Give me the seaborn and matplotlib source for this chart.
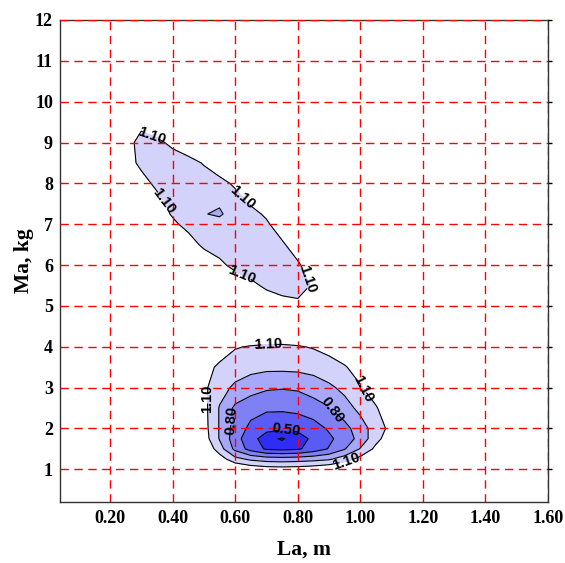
import matplotlib
matplotlib.use("Agg")
import matplotlib.pyplot as plt
import seaborn as sns

# ---------------- data ----------------
# lower basin: grid nodes and objective values
LOW_X = [0.45, 0.50, 0.55, 0.60, 0.65, 0.70, 0.75, 0.80, 0.85, 0.90, 0.95, 1.00, 1.05, 1.10, 1.15]
LOW_Y = [0.75, 1.0, 1.25, 1.5, 1.75, 2.0, 2.5, 3.0, 3.5, 4.0, 4.5]
LOW_Z = [
    [1.65, 1.60, 1.52, 1.45, 1.40, 1.37, 1.36, 1.37, 1.39, 1.42, 1.47, 1.52, 1.58, 1.62, 1.66],
    [1.55, 1.45, 1.35, 1.27, 1.21, 1.18, 1.17, 1.18, 1.20, 1.24, 1.30, 1.38, 1.45, 1.50, 1.55],
    [1.50, 1.35, 1.18, 1.00, 0.92, 0.88, 0.87, 0.88, 0.90, 0.93, 1.03, 1.15, 1.30, 1.40, 1.45],
    [1.45, 1.25, 1.02, 0.76, 0.59, 0.48, 0.46, 0.48, 0.56, 0.66, 0.79, 0.96, 1.14, 1.30, 1.40],
    [1.40, 1.18, 0.94, 0.72, 0.54, 0.45, 0.43, 0.46, 0.52, 0.62, 0.72, 0.85, 1.05, 1.20, 1.32],
    [1.35, 1.16, 0.94, 0.74, 0.61, 0.53, 0.51, 0.52, 0.58, 0.67, 0.75, 0.88, 1.02, 1.15, 1.28],
    [1.30, 1.15, 0.94, 0.77, 0.71, 0.68, 0.68, 0.70, 0.74, 0.79, 0.89, 0.99, 1.09, 1.18, 1.25],
    [1.18, 1.13, 1.01, 0.92, 0.86, 0.82, 0.81, 0.82, 0.86, 0.92, 0.99, 1.09, 1.16, 1.22, 1.27],
    [1.20, 1.14, 1.08, 1.03, 1.00, 0.985, 0.985, 0.99, 1.01, 1.05, 1.09, 1.15, 1.20, 1.25, 1.30],
    [1.25, 1.20, 1.16, 1.11, 1.09, 1.08, 1.08, 1.09, 1.11, 1.14, 1.18, 1.22, 1.26, 1.30, 1.33],
    [1.40, 1.38, 1.35, 1.32, 1.28, 1.26, 1.25, 1.26, 1.28, 1.30, 1.33, 1.36, 1.38, 1.40, 1.42],
]

# upper (diagonal) valley
UP_X = [0.20, 0.25, 0.30, 0.35, 0.40, 0.45, 0.50, 0.55, 0.60, 0.65, 0.70, 0.75, 0.80, 0.85, 0.90, 0.95]
UP_Y = [4.5, 5.0, 5.5, 6.0, 6.5, 7.0, 7.25, 7.5, 8.0, 8.5, 9.0, 9.5, 10.0]
UP_Z = [
    [1.65, 1.63, 1.61, 1.59, 1.56, 1.53, 1.50, 1.46, 1.42, 1.38, 1.34, 1.30, 1.30, 1.33, 1.38, 1.42],
    [1.62, 1.60, 1.58, 1.55, 1.52, 1.48, 1.44, 1.39, 1.33, 1.27, 1.21, 1.17, 1.14, 1.20, 1.28, 1.35],
    [1.60, 1.57, 1.54, 1.51, 1.47, 1.42, 1.37, 1.30, 1.22, 1.14, 1.07, 1.03, 1.03, 1.12, 1.22, 1.30],
    [1.56, 1.53, 1.50, 1.46, 1.40, 1.33, 1.25, 1.14, 1.05, 1.01, 1.00, 1.02, 1.08, 1.18, 1.27, 1.34],
    [1.52, 1.48, 1.43, 1.37, 1.29, 1.19, 1.06, 1.02, 1.00, 1.00, 1.03, 1.08, 1.17, 1.26, 1.33, 1.38],
    [1.48, 1.42, 1.35, 1.26, 1.14, 1.04, 1.00, 0.99, 1.00, 1.03, 1.08, 1.17, 1.26, 1.33, 1.38, 1.42],
    [1.45, 1.38, 1.30, 1.20, 1.08, 1.02, 0.955, 0.935, 1.00, 1.06, 1.12, 1.22, 1.30, 1.36, 1.41, 1.45],
    [1.42, 1.34, 1.25, 1.15, 1.06, 1.02, 1.00, 0.96, 1.04, 1.11, 1.19, 1.27, 1.34, 1.39, 1.43, 1.46],
    [1.35, 1.25, 1.15, 1.07, 1.03, 1.02, 1.03, 1.06, 1.12, 1.20, 1.28, 1.34, 1.39, 1.43, 1.46, 1.49],
    [1.28, 1.16, 1.07, 1.04, 1.03, 1.05, 1.11, 1.18, 1.26, 1.32, 1.37, 1.41, 1.44, 1.47, 1.50, 1.52],
    [1.30, 1.16, 1.05, 1.07, 1.13, 1.20, 1.26, 1.32, 1.36, 1.40, 1.43, 1.46, 1.48, 1.50, 1.52, 1.54],
    [1.35, 1.25, 1.14, 1.20, 1.24, 1.30, 1.35, 1.38, 1.42, 1.45, 1.48, 1.50, 1.52, 1.55, 1.58, 1.60],
    [1.45, 1.40, 1.38, 1.38, 1.40, 1.42, 1.45, 1.48, 1.50, 1.52, 1.54, 1.56, 1.58, 1.60, 1.62, 1.64],
]

LEVELS = [0.50, 0.65, 0.80, 0.95, 1.10]
MIN_MARK_LEVEL = [0.435]
LOW_LABEL_LEVELS = [0.50, 0.80, 1.10]
LOW_PLAIN_LEVELS = [0.65, 0.95]
UP_LABEL_LEVELS = [1.10]
UP_PLAIN_LEVELS = [0.95]
LOW_LABEL_POS = [(0.705, 4.06), (0.995, 2.94), (0.953, 1.22), (0.505, 2.73),
                 (0.589, 2.20), (0.900, 2.41), (0.763, 1.92)]
UP_LABEL_POS = [(0.33, 9.10), (0.624, 7.67), (0.357, 7.43), (0.624, 5.80), (0.827, 5.64)]
BAND_COLORS = ["#2d2df5", "#5a5af5", "#8080f5", "#a8a8fa", "#d2d2fa"]

X_TICKS = [0.20, 0.40, 0.60, 0.80, 1.00, 1.20, 1.40, 1.60]
X_TICK_LABELS = ["0.20", "0.40", "0.60", "0.80", "1.00", "1.20", "1.40", "1.60"]
Y_TICKS = [1, 2, 3, 4, 5, 6, 7, 8, 9, 10, 11, 12]
X_LABEL = "La, m"
Y_LABEL = "Ma, kg"

# ---------------- drawing ----------------
sns.set_theme(style="white")
plt.rcParams["font.family"] = ["Liberation Serif", "DejaVu Serif"]
plt.rcParams["font.weight"] = "bold"

fig, ax = plt.subplots(figsize=(5.65, 5.63), dpi=100)
fig.subplots_adjust(left=0.106, right=0.970, top=0.9645, bottom=0.1083)

fill_levels = [0.0] + LEVELS
groups = ((LOW_X, LOW_Y, LOW_Z, LOW_LABEL_LEVELS, LOW_PLAIN_LEVELS, LOW_LABEL_POS),
          (UP_X, UP_Y, UP_Z, UP_LABEL_LEVELS, UP_PLAIN_LEVELS, UP_LABEL_POS))
for X, Y, Z, lab_levels, plain_levels, pos in groups:
    ax.contourf(X, Y, Z, levels=fill_levels, colors=BAND_COLORS, zorder=1)
    ax.contour(X, Y, Z, levels=plain_levels, colors="black", linewidths=0.8, zorder=2)
    cs = ax.contour(X, Y, Z, levels=lab_levels, colors="black", linewidths=0.8, zorder=2)
    with plt.rc_context({"font.family": ["Liberation Sans", "DejaVu Sans"], "font.weight": "bold"}):
        texts = ax.clabel(cs, manual=pos, fmt="%.2f", inline=True, fontsize=10.5,
                          inline_spacing=1)
    for t in texts:
        t.set_fontweight("bold")
        t.set_family(["Liberation Sans", "DejaVu Sans"])
        t.set_zorder(4)

ax.contour(LOW_X, LOW_Y, LOW_Z, levels=MIN_MARK_LEVEL, colors="black", linewidths=0.8, zorder=2)

ax.set_xlim(0.04, 1.60)
ax.set_ylim(0.2, 12)
ax.set_xticks(X_TICKS)
ax.set_xticklabels(X_TICK_LABELS)
ax.set_yticks(Y_TICKS)

ax.set_axisbelow(False)
ax.grid(True, color="red", linestyle=(0, (6, 4)), linewidth=1.0)

ax.tick_params(axis="x", direction="in", length=4, width=1, color="red",
               labelsize=13, pad=6, labelcolor="black")
ax.tick_params(axis="y", direction="out", length=3, width=1, color="black",
               labelsize=13, pad=2, labelcolor="black", right=True)
for lbl in ax.get_xticklabels() + ax.get_yticklabels():
    lbl.set_fontweight("bold")
for s in ax.spines.values():
    s.set_color("#333333")
    s.set_linewidth(1.0)

ax.set_xlabel(X_LABEL, fontsize=15.5, fontweight="bold", labelpad=9, color="black")
ax.set_ylabel(Y_LABEL, fontsize=15.5, fontweight="bold", labelpad=1, color="black")

fig.savefig("out.png", dpi=100, facecolor="white")
